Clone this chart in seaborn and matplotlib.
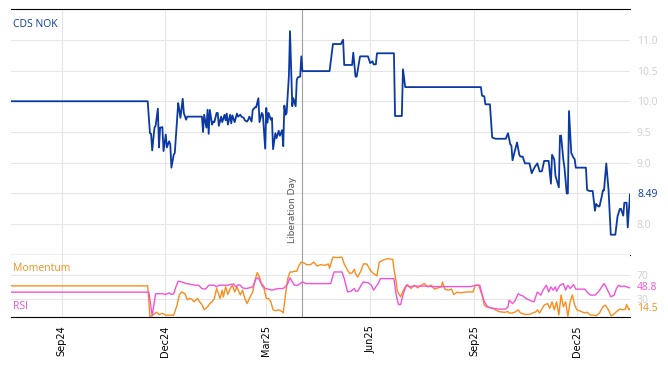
import pandas as pd
import seaborn as sns
import matplotlib
matplotlib.use("Agg")
import matplotlib.pyplot as plt
import matplotlib.dates as mdates

# dates are given as day offsets from the first observation
start = pd.Timestamp("2024-07-18")
end = pd.Timestamp("2026-01-17")
liberation_day = pd.Timestamp("2025-04-02")

cds_days = [0, 121, 123, 124, 125, 127, 128, 130, 131, 132, 134, 135, 137, 138, 140, 141, 142, 144, 145,
            148, 149, 150, 152, 153, 155, 156, 169, 170, 171, 173, 174, 175, 176, 178, 179, 180, 182, 183,
            184, 186, 187, 189, 190, 191, 192, 194, 195, 196, 198, 200, 201, 203, 204, 206, 207, 209, 210,
            211, 213, 214, 216, 217, 219, 220, 222, 223, 225, 226, 227, 228, 230, 231, 232, 234, 235, 237,
            238, 240, 241, 242, 243, 244, 246, 247, 249, 250, 252, 253, 254, 256, 257, 258, 282, 285, 292,
            294, 295, 302, 303, 305, 306, 309, 316, 318, 320, 321, 323, 324, 339, 340, 346, 347, 349, 416,
            417, 419, 420, 424, 426, 429, 438, 440, 442, 443, 444, 446, 448, 450, 451, 453, 455, 459, 461,
            462, 464, 466, 468, 470, 472, 476, 478, 479, 481, 482, 485, 486, 487, 489, 490, 492, 493, 494,
            496, 498, 499, 500, 509, 510, 512, 515, 517, 518, 520, 521, 523, 524, 525, 527, 529, 531, 535,
            537, 539, 540, 542, 543, 545, 546, 548]
cds_vals = [10.0, 10.0, 9.48, 9.47, 9.2, 9.57, 9.6, 9.88, 9.25, 9.57, 9.58, 9.19, 9.46, 9.25, 9.35, 9.3, 8.92, 9.13, 9.16,
            9.97, 9.86, 9.73, 10.04, 9.81, 9.7, 9.75, 9.75, 9.5, 9.78, 9.57, 9.86, 9.47, 9.86, 9.62, 9.67, 9.66, 9.81, 9.81,
            9.6, 9.75, 9.66, 9.78, 9.69, 9.8, 9.62, 9.78, 9.64, 9.77, 9.66, 9.8, 9.75, 9.78, 9.75, 9.73, 9.69, 9.67, 9.7,
            9.75, 9.67, 9.86, 9.9, 9.9, 10.05, 9.66, 9.81, 9.78, 9.23, 9.89, 9.65, 9.81, 9.7, 9.73, 9.22, 9.48, 9.4, 9.52,
            9.44, 9.53, 9.27, 9.93, 9.78, 9.81, 10.41, 11.14, 9.92, 10.05, 9.92, 10.35, 10.39, 10.4, 10.73, 10.49, 10.49, 10.93, 10.93,
            11.0, 10.59, 10.59, 10.79, 10.4, 10.4, 10.73, 10.73, 10.62, 10.65, 10.6, 10.6, 10.78, 10.78, 9.76, 9.76, 10.52, 10.23, 10.23,
            10.09, 10.08, 9.95, 9.95, 9.41, 9.39, 9.39, 9.48, 9.3, 9.28, 9.04, 9.19, 9.33, 9.13, 9.1, 9.1, 8.99, 8.99, 8.83,
            8.87, 8.94, 8.99, 8.86, 8.86, 9.03, 9.03, 8.66, 9.13, 9.05, 8.79, 8.6, 9.44, 9.44, 9.05, 8.92, 8.5, 8.5, 9.84,
            9.16, 9.08, 9.06, 8.92, 8.92, 8.56, 8.54, 8.54, 8.22, 8.33, 8.29, 8.29, 8.45, 8.55, 8.55, 8.99, 8.56, 7.83, 7.83,
            8.13, 8.25, 8.25, 8.14, 8.35, 8.35, 7.95, 8.49]

mom_days = [0, 121, 123, 129, 131, 134, 137, 140, 144, 147, 149, 151, 154, 156, 158, 160, 162, 165, 167, 169, 171,
            174, 176, 178, 180, 182, 184, 185, 187, 188, 190, 192, 194, 196, 198, 200, 203, 205, 207, 209, 211, 214,
            216, 218, 220, 222, 224, 226, 228, 230, 232, 234, 237, 240, 241, 243, 245, 247, 249, 251, 253, 255, 257,
            259, 262, 265, 268, 271, 274, 278, 281, 282, 285, 289, 293, 295, 298, 300, 302, 304, 305, 307, 310, 312,
            315, 318, 321, 324, 326, 329, 333, 338, 339, 341, 342, 345, 347, 349, 351, 354, 357, 360, 363, 366, 369,
            372, 375, 378, 381, 382, 384, 387, 390, 392, 395, 398, 403, 409, 411, 414, 417, 419, 421, 424, 427, 429,
            432, 437, 440, 441, 444, 447, 449, 451, 455, 459, 462, 465, 466, 468, 472, 475, 477, 479, 481, 483, 485,
            487, 489, 491, 493, 495, 497, 499, 501, 505, 508, 510, 513, 515, 518, 521, 524, 526, 529, 531, 533, 536,
            539, 542, 544, 545, 547, 548]
mom_vals = [52.2, 52.2, 0, 8, 4, 6, 3, 3, 3, 20, 37, 42, 39, 29, 31, 30, 25.5, 31, 25.5, 21, 12,
            17, 22.5, 25.5, 31, 47.7, 37, 31, 45, 33.5, 50.5, 37.7, 47.7, 53, 42, 50.5, 37, 45, 31, 22.5, 31, 42,
            61.7, 74.4, 67, 53, 47.7, 31, 31, 25.5, 12, 10.5, 12, 9, 6.7, 37, 64.4, 75.5, 75.5, 76.7, 76.7, 86.7, 92,
            91, 87.7, 87.7, 92, 85.5, 87.7, 86.7, 89, 82, 100.5, 99.5, 100.5, 89, 78.3, 72.7, 74.4, 80, 72.7, 67, 78.3, 89,
            89, 78.3, 72.7, 68.9, 92, 95, 97.8, 96.7, 81, 58.9, 43.3, 33.9, 43.3, 50.5, 54.4, 47.7, 53.3, 48.9, 53.3, 56, 50.5,
            53.3, 46.7, 48.9, 50.5, 58.9, 46.7, 45, 46.7, 37.7, 41.7, 40.5, 42, 42, 53.3, 53.3, 37, 20, 17, 15.5, 13.9, 12,
            9, 7.8, 9, 6.7, 6.7, 9, 12, 6.7, 4.4, 4.4, 6.7, 9, 12, 6.7, 20, 22.5, 14.4, 25.5, 12, 25.5, 3.3,
            37, 17, 25.5, 1, 25.5, 37, 20, 12, 9, 6.7, 8, 3.3, 3.3, 2.2, 6.7, 17, 20, 12, 2.2, 3.3, 9,
            13.3, 12, 13.3, 21, 12, 14.5]

rsi_days = [0, 122, 125, 128, 131, 134, 137, 140, 142, 144, 146, 148, 151, 154, 157, 160, 163, 166, 169, 172, 174,
            175, 177, 180, 182, 184, 187, 190, 192, 194, 197, 199, 201, 203, 205, 208, 211, 214, 217, 219, 221, 223,
            225, 228, 231, 234, 237, 240, 242, 245, 247, 249, 251, 254, 256, 258, 260, 262, 264, 283, 286, 293, 295,
            298, 301, 304, 305, 307, 310, 312, 314, 316, 319, 321, 323, 325, 327, 339, 341, 343, 345, 347, 350, 353,
            357, 361, 366, 372, 407, 412, 415, 417, 419, 422, 427, 432, 438, 440, 441, 444, 446, 449, 451, 453, 456,
            461, 463, 466, 469, 471, 474, 476, 478, 480, 482, 483, 486, 489, 491, 493, 495, 498, 500, 503, 508, 510,
            513, 517, 520, 523, 525, 526, 529, 531, 534, 536, 538, 540, 543, 545, 548]
rsi_vals = [41.7, 41.7, 2, 39, 39, 39, 37.8, 40.5, 37.8, 39, 50.5, 60, 59, 56.6, 55.5, 54.4, 53.3, 53.3, 47.7, 46.7, 50.5,
            53.3, 53.3, 53.3, 50.5, 53.3, 53.3, 53.3, 53.3, 54.4, 55.5, 50.5, 54, 53.3, 48.9, 47.7, 48.9, 50.5, 64.4, 65.6, 57.8, 53.3,
            47.7, 46.7, 45, 46.7, 47.7, 47.7, 48.9, 56, 65.6, 58.9, 53.3, 53.3, 56, 58.9, 57, 56, 56, 56, 75.5, 75.5, 64.4,
            42, 43.3, 47.7, 43.3, 43.3, 53.3, 58.9, 57.8, 57.8, 53.3, 45, 50.5, 56, 64.4, 64.4, 37, 21, 21, 37, 53.3, 50.5,
            52, 51.5, 52, 51, 51, 53.3, 53.3, 39, 25.5, 17, 14.4, 13.3, 13.3, 17, 28.3, 22.5, 26.6, 39, 36.7, 35.5, 31,
            26.6, 25.5, 42, 36.7, 45, 53.3, 42, 50.5, 45, 50.5, 43.3, 53.3, 56, 45, 53.3, 47.7, 54.4, 46.7, 46.7, 46.7, 42,
            36.7, 36.7, 42, 50.5, 56, 53.3, 42, 33.9, 36.7, 47.7, 53.3, 51, 52, 50.5, 48.8]

month_ticks = ["2024-09-01", "2024-12-01", "2025-03-01", "2025-06-01", "2025-09-01", "2025-12-01"]
cds_yticks = [8.0, 8.5, 9.0, 9.5, 10.0, 10.5, 11.0]
cds_ylabels = ["8.0", "", "9.0", "9.5", "10.0", "10.5", "11.0"]  # 8.5 sits under the last-value tag
osc_yticks = [30, 70]

blue = "#0b3aa5"
orange = "#f98e1d"
magenta = "#f552d8"
grid_col = "#e6e6e6"
label_grey = "#cfcfcf"


def to_dates(days):
    return start + pd.to_timedelta(days, unit="D")


cds = pd.DataFrame({"date": to_dates(cds_days), "value": cds_vals})
mom = pd.DataFrame({"date": to_dates(mom_days), "value": mom_vals})
rsi = pd.DataFrame({"date": to_dates(rsi_days), "value": rsi_vals})

sns.set_style("white")
plt.rcParams["font.family"] = ["DejaVu Sans"]

fig = plt.figure(figsize=(6.68, 3.66), dpi=100)
ax1 = fig.add_axes([0.0165, 0.3033, 0.9266, 0.6721])
ax2 = fig.add_axes([0.0165, 0.1339, 0.9266, 0.1694], sharex=ax1)

sns.lineplot(data=cds, x="date", y="value", color=blue, linewidth=1.3,
             estimator=None, sort=False, ax=ax1)
sns.lineplot(data=mom, x="date", y="value", color=orange, linewidth=1.0,
             estimator=None, sort=False, ax=ax2)
sns.lineplot(data=rsi, x="date", y="value", color=magenta, linewidth=1.0,
             estimator=None, sort=False, ax=ax2)

ticks = pd.to_datetime(month_ticks)
for ax in (ax1, ax2):
    ax.set_xlabel("")
    ax.set_ylabel("")
    ax.set_xticks(ticks)
    ax.grid(True, color=grid_col, linewidth=0.8)
    ax.set_axisbelow(True)
    ax.yaxis.tick_right()
    ax.tick_params(axis="y", length=0, labelcolor=label_grey, labelsize=7.5, pad=5)
    ax.tick_params(axis="x", direction="in", length=5, width=1, color="black")
    for side in ("left", "right"):
        ax.spines[side].set_visible(False)
    ax.axvline(liberation_day, color="#a0a0a0", linewidth=0.8, zorder=1)

ax1.set_xlim(start, end)
ax1.set_ylim(7.5, 11.5)
ax1.set_yticks(cds_yticks)
ax1.set_yticklabels(cds_ylabels, family="Open Sans")
ax1.spines["top"].set_color("black")
ax1.spines["bottom"].set_color("black")
ax1.tick_params(axis="x", labelbottom=False)

ax2.set_ylim(0, 104)
ax2.set_yticks(osc_yticks)
ax2.set_yticklabels([str(v) for v in osc_yticks], family="Open Sans")
ax2.spines["top"].set_visible(False)
ax2.spines["bottom"].set_color("black")
ax2.xaxis.set_major_formatter(mdates.DateFormatter("%b%y"))
ax2.tick_params(axis="x", labelsize=7, labelrotation=90, pad=6, labelcolor="black")

tag_box = dict(facecolor="white", edgecolor="none", pad=0.5)

ax1.text(0.004, 0.935, "CDS NOK", transform=ax1.transAxes, color=blue, fontsize=7.5,
         family="Open Sans", va="center", ha="left",
         bbox=dict(facecolor="white", edgecolor="none", pad=1.5))
ax1.text(1.0115, cds_vals[-1], f"{cds_vals[-1]:.2f}", transform=ax1.get_yaxis_transform(),
         color=blue, fontsize=7.5, family="Open Sans", va="center", ha="left", bbox=tag_box)
ax1.annotate("Liberation Day", xy=(liberation_day, 7.7), xytext=(-4, 0), textcoords="offset points",
             rotation=90, ha="right", va="bottom", fontsize=6.5, color="#555555")

ax2.text(0.004, 0.79, "Momentum", transform=ax2.transAxes, color=orange, fontsize=7.5,
         family="Open Sans", va="center", ha="left")
ax2.text(0.004, 0.177, "RSI", transform=ax2.transAxes, color=magenta, fontsize=7.5,
         family="Open Sans", va="center", ha="left")
ax2.text(1.0115, rsi_vals[-1], f"{rsi_vals[-1]:.1f}", transform=ax2.get_yaxis_transform(),
         color=magenta, fontsize=7.5, family="Open Sans", va="center", ha="left", bbox=tag_box)
ax2.text(1.0115, mom_vals[-1] - 1, f"{mom_vals[-1]:.1f}", transform=ax2.get_yaxis_transform(),
         color=orange, fontsize=7.5, family="Open Sans", va="center", ha="left", bbox=tag_box)

plt.savefig("out.png", dpi=100)
